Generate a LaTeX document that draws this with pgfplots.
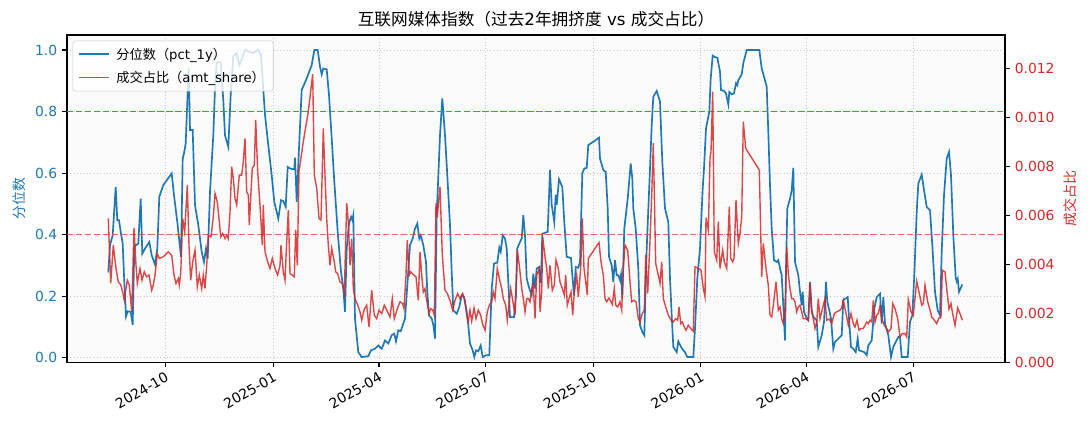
\documentclass[border=0pt]{standalone}
\usepackage{pgfplots}
\pgfplotsset{compat=1.18}
\usepackage{fontspec}
\setmainfont{DejaVu Sans}
\newfontfamily\cjk{Noto Sans CJK SC}
\definecolor{myblue}{RGB}{31,119,180}
\definecolor{myred}{RGB}{214,39,40}
\definecolor{mygreen}{RGB}{50,175,50}
\definecolor{dashred}{RGB}{240,70,70}
\definecolor{bg}{RGB}{250,250,250}
\pgfplotsset{
  common/.style={
    at={(0,0)}, anchor=south west, scale only axis,
    width=675.36pt, height=235.7pt,
    xmin=67, xmax=1005, no markers,
    /pgf/number format/assume math mode=true,
    tick align=outside, major tick length=3.5pt,
    tick style={black, line width=0.8pt},
    axis line style={line width=0.8pt},
    tick label style={font=\fontsize{10}{12}\selectfont},
    label style={font=\fontsize{10}{12}\selectfont},
  }
}
\begin{document}
\begin{tikzpicture}
\useasboundingbox (-48.24pt,-48.02pt) rectangle (735.84pt,260.86pt);
\begin{axis}[common,
  ymin=-0.015, ymax=1.049,
  axis background/.style={fill=bg},
  xtick={165.4,273.6,379.0,485.9,593.4,700.9,806.3,913.1},
  xticklabels={2024-10,2025-01,2025-04,2025-07,2025-10,2026-01,2026-04,2026-07},
  x tick label style={rotate=30, anchor=north east, inner sep=2pt},
  ytick={0,0.2,0.4,0.6,0.8,1.0},
  y tick label style={color=myblue, /pgf/number format/fixed, /pgf/number format/fixed zerofill, /pgf/number format/precision=1},
  xtick pos=left, ytick pos=left,
  grid=major, grid style={dotted, black!22, line width=0.6pt},
  ylabel={{\cjk 分位数}}, ylabel style={color=myblue},
  title={{\cjk 互联网媒体指数（过去}2{\cjk 年拥挤度} vs {\cjk 成交占比）}},
  title style={font=\fontsize{12}{14}\selectfont, yshift=-4pt},
]
\addplot[color=myblue, line width=1.2pt] coordinates {
(108.3,0.277)(110.0,0.366)(112.7,0.398)(115.7,0.555)(117.3,0.447)(119.0,0.447)(120.7,0.409)(122.7,0.371)(124.0,0.268)(126.0,0.134)
(127.7,0.151)(130.7,0.149)(132.7,0.107)(134.3,0.358)(136.0,0.366)(138.3,0.371)(140.7,0.517)(142.3,0.338)(145.0,0.355)(147.3,0.366)
(149.3,0.376)(151.7,0.333)(155.0,0.303)(157.3,0.355)(159.3,0.523)(163.3,0.561)(171.7,0.599)(174.0,0.528)(177.3,0.441)(181.0,0.328)
(182.7,0.647)(184.0,0.664)(185.7,0.696)(187.7,0.864)(188.7,0.94)(190.0,0.740)(192.7,0.740)(195.0,0.496)(198.3,0.431)(201.7,0.344)
(204.0,0.311)(206.0,0.355)(207.7,0.322)(210.0,0.539)(213.3,0.723)(215.0,0.875)(216.7,0.96)(220.7,0.96)(223.3,0.837)(225.0,0.723)
(228.3,0.685)(230.7,0.854)(233.3,0.98)(236.7,0.99)(239.3,0.95)(241.7,0.97)(245.0,1.0)(248.3,0.995)(253.0,0.99)(258.3,1.0)
(261.0,0.984)(265.0,0.789)(268.3,0.691)(271.7,0.593)(274.3,0.506)(278.3,0.452)(281.0,0.512)(283.3,0.509)(285.7,0.490)(287.7,0.620)
(290.0,0.615)(294.3,0.612)(295.0,0.650)(296.7,0.506)(299.0,0.680)(301.7,0.870)(306.7,0.908)(311.7,0.951)(314.3,1.000)(317.7,1.000)
(320.0,0.946)(321.7,0.921)(323.3,0.940)(326.7,0.937)(329.0,0.854)(331.7,0.713)(334.3,0.572)(337.7,0.409)(341.0,0.279)(343.3,0.225)
(345.0,0.149)(346.7,0.355)(349.0,0.436)(351.0,0.458)(352.3,0.447)(353.3,0.463)(355.0,0.127)(358.3,0.018)(361.7,0.002)(368.3,0.005)
(371.0,0.024)(375.0,0.029)(378.3,0.040)(381.7,0.029)(385.0,0.056)(388.3,0.046)(391.7,0.073)(394.3,0.078)(396.0,0.053)(398.3,0.089)
(400.7,0.086)(402.7,0.105)(405.0,0.127)(407.3,0.235)(410.0,0.366)(412.7,0.387)(415.0,0.420)(417.3,0.436)(419.3,0.387)(420.7,0.398)
(423.3,0.366)(426.0,0.311)(427.3,0.214)(429.0,0.138)(431.7,0.127)(433.3,0.107)(435.0,0.062)(436.7,0.463)(440.0,0.723)(442.3,0.843)
(445.0,0.723)(447.3,0.593)(450.0,0.431)(451.7,0.279)(453.3,0.154)(456.7,0.143)(459.3,0.165)(461.7,0.203)(464.0,0.197)(466.7,0.149)
(468.3,0.105)(470.0,0.046)(472.7,0.024)(474.3,0.002)(476.0,0.024)(478.3,0.021)(480.7,0.040)(482.7,0.002)(486.0,0.008)(489.3,0.008)
(491.7,0.225)(494.0,0.306)(497.3,0.309)(499.3,0.358)(500.7,0.344)(502.7,0.398)(505.0,0.387)(506.7,0.355)(508.3,0.246)(510.0,0.132)
(514.0,0.132)(516.0,0.203)(517.3,0.355)(520.0,0.376)(521.7,0.387)(523.3,0.463)(525.0,0.398)(526.7,0.257)(529.3,0.225)(531.7,0.203)
(533.3,0.273)(535.0,0.225)(536.7,0.290)(539.3,0.295)(540.0,0.246)(541.0,0.246)(542.3,0.403)(547.7,0.409)(550.0,0.610)(551.7,0.496)
(554.3,0.441)(555.7,0.530)(556.7,0.496)(559.0,0.580)(562.3,0.555)(564.3,0.441)(566.7,0.328)(571.0,0.324)(572.3,0.268)(574.0,0.203)
(575.7,0.295)(578.3,0.292)(580.0,0.311)(582.3,0.599)(584.3,0.615)(586.7,0.617)(588.3,0.691)(593.3,0.702)(599.0,0.715)(600.0,0.647)
(603.3,0.610)(605.7,0.604)(607.7,0.485)(609.0,0.328)(611.7,0.300)(613.3,0.246)(615.0,0.317)(616.7,0.268)(618.3,0.268)(620.0,0.252)
(621.0,0.270)(622.3,0.192)(624.3,0.420)(627.7,0.517)(630.7,0.631)(632.3,0.583)(633.3,0.485)(635.7,0.420)(638.3,0.290)(640.0,0.105)
(642.3,0.084)(644.3,0.073)(646.7,0.355)(650.0,0.615)(651.7,0.756)(653.3,0.848)(656.7,0.867)(660.0,0.832)(662.3,0.637)(665.0,0.485)
(668.3,0.441)(670.0,0.257)(671.7,0.138)(673.3,0.035)(676.7,0.018)(678.3,0.053)(681.0,0.035)(683.3,0.024)(685.0,0.018)(687.3,0.002)
(693.3,0.002)(695.0,0.095)(697.3,0.257)(700.0,0.355)(702.7,0.550)(704.0,0.615)(706.0,0.745)(707.3,0.767)(709.3,0.799)(710.7,0.908)
(712.7,0.982)(715.0,0.977)(717.3,0.975)(720.0,0.930)(721.0,0.870)(724.0,0.867)(726.0,0.859)(728.3,0.823)(729.3,0.864)(731.7,0.856)
(734.0,0.859)(736.0,0.892)(737.3,0.886)(738.3,0.902)(741.7,0.921)(743.3,0.957)(746.7,1.000)(759.3,1.000)(761.7,0.940)(764.0,0.913)
(766.7,0.881)(768.3,0.734)(770.0,0.561)(771.7,0.420)(774.0,0.317)(776.7,0.311)(778.3,0.317)(780.0,0.290)(781.7,0.268)(783.3,0.170)
(785.0,0.056)(786.0,0.290)(787.3,0.485)(790.0,0.517)(791.7,0.544)(793.3,0.617)(795.0,0.311)(798.3,0.268)(800.0,0.214)(801.7,0.170)
(802.7,0.214)(804.0,0.149)(806.7,0.127)(808.3,0.121)(810.0,0.246)(811.7,0.154)(813.3,0.132)(815.0,0.127)(816.7,0.121)(818.3,0.035)
(821.7,0.073)(824.0,0.116)(826.0,0.246)(827.3,0.181)(829.3,0.154)(831.0,0.127)(833.3,0.029)(835.0,0.051)(838.3,0.062)(841.7,0.073)
(843.3,0.187)(847.7,0.197)(849.0,0.127)(851.0,0.035)(853.3,0.029)(855.7,0.018)(857.7,0.062)(859.0,0.024)(861.7,0.021)(864.3,0.018)
(866.7,0.008)(868.3,0.040)(871.7,0.056)(874.3,0.159)(876.7,0.197)(880.0,0.208)(881.7,0.111)(883.3,0.197)(885.0,0.111)(888.3,0.073)
(891.0,0.002)(893.3,0.035)(895.7,0.051)(898.3,0.067)(900.0,0.067)(901.7,0.002)(907.7,0.002)(910.0,0.116)(912.3,0.138)(914.3,0.268)
(916.7,0.474)(918.3,0.566)(921.7,0.595)(924.3,0.539)(926.7,0.490)(930.0,0.479)(932.3,0.366)(935.0,0.214)(937.7,0.154)(940.0,0.138)
(941.7,0.344)(944.0,0.528)(946.7,0.647)(949.0,0.669)(951.0,0.593)(953.3,0.398)(955.7,0.259)(956.7,0.248)(957.7,0.257)(959.0,0.214)
(962.3,0.238)
};
\addplot[color=mygreen, draw=mygreen, line width=1.1pt, dash pattern=on 4.5pt off 2pt] coordinates {(67,0.8) (1005,0.8)};
\addplot[color=dashred, draw=dashred, line width=0.9pt, opacity=0.8, dash pattern=on 4.5pt off 2pt] coordinates {(67,0.4) (1005,0.4)};
\end{axis}
\begin{axis}[common,
  ymin=0, ymax=0.01336,
  axis y line*=right, axis x line=none,
  ytick={0,0.002,0.004,0.006,0.008,0.010,0.012},
  scaled y ticks=false,
  y tick label style={color=myred, /pgf/number format/fixed, /pgf/number format/fixed zerofill, /pgf/number format/precision=3},
  ylabel={{\cjk 成交占比}}, ylabel style={color=myred},
  legend style={at={(0,1)}, anchor=north west, xshift=4pt, yshift=-4pt,
    draw=black!20, fill=white, fill opacity=0.8, text opacity=1,
    rounded corners=2pt, font=\fontsize{9.5}{11}\selectfont,
    cells={anchor=west}, row sep=3pt, column sep=3pt, inner xsep=4pt, inner ysep=3pt},
  legend image code/.code={\draw[#1] (0pt,0pt) -- (21pt,0pt);},
]
\addlegendimage{color=myblue, line width=1.4pt}
\addlegendentry{{\cjk 分位数（}pct\_1y{\cjk ）}}
\addplot[color=myred, line width=1pt, opacity=0.85] coordinates {
(108.3,0.00587)(110.7,0.00322)(113.3,0.00478)(116.0,0.00383)(118.3,0.00328)(120.7,0.00317)(122.7,0.00287)(124.3,0.00253)(125.7,0.00294)(127.3,0.00335)
(129.3,0.00315)(131.7,0.00206)(134.0,0.00549)(136.0,0.00396)(137.3,0.00322)(140.0,0.00383)(142.0,0.00335)(144.3,0.00369)(146.7,0.00349)(149.0,0.00356)
(151.7,0.00294)(153.3,0.00315)(155.0,0.00356)(157.3,0.00444)(159.3,0.00424)(163.3,0.00431)(168.3,0.00451)(171.7,0.00437)(174.0,0.00356)(176.0,0.00322)
(178.3,0.00342)(179.3,0.00315)(180.7,0.00362)(182.7,0.00587)(184.7,0.00533)(187.3,0.00723)(189.0,0.00478)(190.7,0.00335)(192.7,0.00410)(195.0,0.00458)
(197.3,0.00308)(199.3,0.00356)(201.7,0.00301)(203.3,0.00356)(205.0,0.00301)(206.7,0.00396)(208.3,0.00519)(211.0,0.00512)(213.3,0.00594)(215.0,0.00689)
(217.3,0.00655)(219.3,0.00574)(220.7,0.00512)(222.7,0.00526)(225.0,0.00505)(226.7,0.00519)(228.3,0.00505)(230.0,0.00614)(231.7,0.00798)(233.3,0.00751)
(235.0,0.00669)(236.7,0.00642)(239.3,0.00764)(241.7,0.00764)(243.3,0.00819)(245.0,0.00914)(246.7,0.00696)(248.3,0.00683)(249.3,0.00560)(251.0,0.00696)
(252.3,0.00792)(254.3,0.00805)(255.7,0.00989)(257.7,0.00778)(259.3,0.00683)(261.0,0.00574)(262.3,0.00478)(263.3,0.00642)(265.0,0.00451)(267.7,0.00410)
(270.0,0.00383)(272.3,0.00424)(275.0,0.00383)(277.7,0.00356)(280.0,0.00396)(281.0,0.00478)(283.3,0.00369)(285.0,0.00335)(286.7,0.00492)(288.3,0.00621)
(290.0,0.00362)(292.3,0.00356)(294.3,0.00349)(295.7,0.00540)(297.3,0.00396)(299.0,0.00778)(303.3,0.00901)(308.3,0.01023)(312.7,0.01176)(314.3,0.00764)
(316.7,0.00711)(319.0,0.00587)(321.0,0.00580)(323.3,0.00955)(325.0,0.00764)(326.7,0.00587)(328.3,0.00478)(330.0,0.00396)(331.7,0.00465)(334.3,0.00410)
(335.7,0.00369)(337.7,0.00362)(340.0,0.00328)(342.3,0.00322)(344.3,0.00281)(346.7,0.00649)(348.3,0.00574)(350.0,0.00396)(351.7,0.00505)(353.3,0.00301)
(355.0,0.00260)(357.7,0.00233)(360.0,0.00206)(361.7,0.00172)(364.3,0.00217)(366.7,0.00233)(369.0,0.00144)(371.7,0.00294)(374.3,0.00192)(376.7,0.00178)
(379.0,0.00213)(381.7,0.00199)(384.3,0.00233)(386.7,0.00213)(390.0,0.00185)(392.3,0.00260)(394.3,0.00178)(397.3,0.00219)(400.0,0.00247)(402.7,0.00240)
(404.0,0.00219)(406.0,0.00356)(407.3,0.00499)(409.3,0.00356)(410.7,0.00369)(413.3,0.00358)(416.0,0.00349)(418.3,0.00253)(420.0,0.00451)(421.7,0.00356)
(423.3,0.00287)(425.0,0.00301)(426.7,0.00253)(429.0,0.00199)(430.7,0.00219)(432.7,0.00213)(434.3,0.00192)(436.0,0.00649)(437.3,0.00594)(440.0,0.00717)
(442.3,0.00437)(445.0,0.00294)(447.3,0.00281)(450.0,0.00253)(452.7,0.00213)(455.0,0.00253)(457.7,0.00281)(460.0,0.00260)(462.7,0.00281)(465.0,0.00253)
(466.7,0.00192)(468.3,0.00165)(470.0,0.00213)(471.7,0.00168)(474.0,0.00222)(476.0,0.00178)(478.3,0.00213)(480.7,0.00192)(482.7,0.00154)(485.0,0.00131)
(487.3,0.00206)(489.3,0.00233)(491.7,0.00247)(493.3,0.00287)(495.0,0.00260)(497.3,0.00383)(499.3,0.00342)(501.7,0.00301)(503.3,0.00260)(505.7,0.00233)
(507.3,0.00172)(509.3,0.00247)(510.7,0.00301)(512.7,0.00253)(515.0,0.00192)(517.3,0.00458)(519.3,0.00396)(521.7,0.00301)(523.3,0.00260)(525.0,0.00206)
(526.7,0.00260)(528.3,0.00260)(530.0,0.00247)(531.7,0.00301)(533.3,0.00315)(535.0,0.00178)(536.7,0.00356)(539.3,0.00383)(540.0,0.00206)(541.7,0.00287)
(542.7,0.00512)(545.0,0.00431)(546.7,0.00383)(548.3,0.00301)(550.0,0.00396)(552.3,0.00294)(554.3,0.00315)(556.0,0.00417)(558.3,0.00383)(560.0,0.00328)
(562.3,0.00301)(564.3,0.00274)(565.7,0.00356)(567.3,0.00233)(569.0,0.00260)(571.0,0.00287)(572.7,0.00192)(574.3,0.00287)(576.7,0.00356)(578.3,0.00267)
(580.7,0.00383)(582.3,0.00587)(584.0,0.00383)(585.7,0.00328)(587.3,0.00274)(588.3,0.00424)(599.0,0.00489)(601.0,0.00410)(603.3,0.00356)(605.0,0.00260)
(606.7,0.00247)(609.0,0.00263)(611.0,0.00247)(612.3,0.00236)(614.3,0.00301)(615.7,0.00233)(617.7,0.00226)(620.0,0.00247)(621.7,0.00213)(623.3,0.00383)
(625.0,0.00478)(627.7,0.00458)(630.0,0.00328)(631.7,0.00247)(634.0,0.00253)(636.0,0.00247)(638.3,0.00178)(640.0,0.00165)(642.3,0.00199)(644.3,0.00213)
(645.7,0.00437)(647.7,0.00281)(650.0,0.00499)(651.7,0.00683)(653.3,0.00894)(655.7,0.00403)(658.3,0.00356)(660.0,0.00322)(661.7,0.00410)(663.3,0.00260)
(665.7,0.00226)(668.3,0.00192)(671.0,0.00172)(673.3,0.00165)(675.7,0.00178)(677.7,0.00172)(679.0,0.00226)(680.7,0.00158)(682.3,0.00165)(684.3,0.00144)
(686.0,0.00131)(688.3,0.00151)(690.7,0.00138)(693.3,0.00127)(695.0,0.00390)(698.3,0.00383)(701.0,0.00376)(703.3,0.00301)(705.0,0.00267)(706.0,0.00590)
(708.3,0.00540)(710.0,0.00832)(711.0,0.00860)(712.7,0.01105)(714.3,0.00451)(716.7,0.00417)(718.3,0.00574)(720.0,0.00383)(722.7,0.00458)(724.3,0.00410)
(726.7,0.00383)(729.3,0.00635)(730.7,0.00424)(732.7,0.00410)(734.0,0.00424)(736.0,0.00662)(738.3,0.00485)(740.0,0.00526)(741.7,0.00594)(743.3,0.00982)
(745.7,0.00873)(759.3,0.00785)(761.7,0.00349)(763.3,0.00485)(766.0,0.00383)(768.3,0.00315)(770.0,0.00192)(771.7,0.00185)(773.3,0.00233)(776.0,0.00328)
(778.3,0.00213)(780.0,0.00226)(781.7,0.00178)(783.3,0.00158)(785.0,0.00192)(786.7,0.00471)(788.3,0.00362)(790.0,0.00301)(791.7,0.00260)(793.3,0.00260)
(795.0,0.00247)(796.7,0.00206)(798.3,0.00226)(800.0,0.00233)(801.7,0.00206)(803.3,0.00178)(806.0,0.00178)(808.3,0.00172)(810.0,0.00322)(811.7,0.00206)
(813.3,0.00178)(815.0,0.00138)(816.7,0.00165)(818.3,0.00260)(820.0,0.00178)(821.7,0.00206)(823.3,0.00233)(825.0,0.00260)(826.7,0.00172)(829.3,0.00176)
(831.7,0.00158)(834.3,0.00199)(836.7,0.00206)(840.0,0.00213)(841.7,0.00222)(843.3,0.00253)(845.7,0.00206)(848.3,0.00151)(851.0,0.00199)(853.3,0.00158)
(855.0,0.00144)(857.0,0.00172)(859.0,0.00131)(861.0,0.00138)(863.3,0.00138)(865.0,0.00151)(866.7,0.00165)(868.3,0.00158)(870.0,0.00172)(871.7,0.00165)
(873.3,0.00253)(875.0,0.00165)(876.7,0.00192)(878.3,0.00199)(880.0,0.00230)(881.7,0.00178)(884.3,0.00151)(886.7,0.00138)(888.3,0.00124)(891.0,0.00138)
(892.7,0.00240)(895.0,0.00219)(897.7,0.00178)(900.0,0.00104)(902.3,0.00117)(905.0,0.00117)(906.7,0.00104)(908.3,0.00256)(911.0,0.00206)(913.3,0.00192)
(916.7,0.00331)(919.0,0.00287)(921.7,0.00233)(923.3,0.00240)(925.0,0.00315)(927.7,0.00247)(930.0,0.00213)(931.7,0.00185)(934.3,0.00172)(936.7,0.00158)
(939.0,0.00181)(941.0,0.00185)(942.3,0.00376)(945.0,0.00369)(946.7,0.00301)(949.0,0.00217)(951.0,0.00240)(952.3,0.00206)(955.0,0.00151)(957.7,0.00222)
(960.0,0.00199)(962.3,0.00172)
};
\addlegendentry{{\cjk 成交占比（}amt\_share{\cjk ）}}
\end{axis}
\end{tikzpicture}
\end{document}
